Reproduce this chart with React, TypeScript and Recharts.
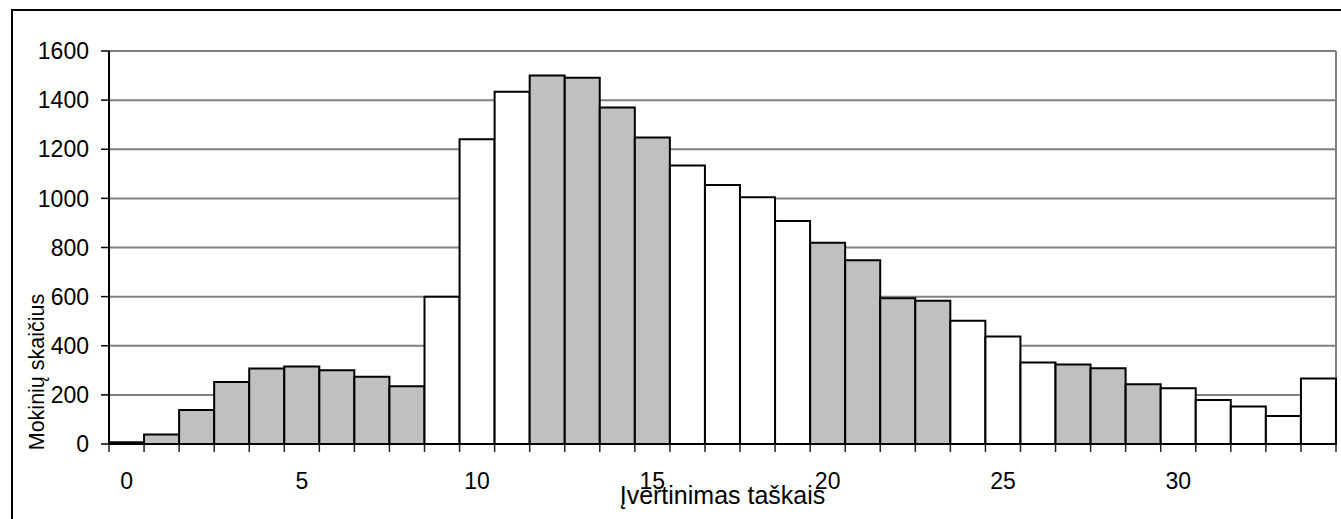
import { BarChart, Bar, XAxis, YAxis, CartesianGrid, Cell, Label } from "recharts"

const scores = [
  0, 1, 2, 3, 4, 5, 6, 7, 8, 9, 10, 11, 12, 13, 14, 15, 16, 17,
  18, 19, 20, 21, 22, 23, 24, 25, 26, 27, 28, 29, 30, 31, 32, 33, 34,
]

const counts = [
  7, 39, 138, 252, 307, 316, 300, 274, 235, 600, 1241, 1434, 1500, 1491, 1370, 1248, 1134, 1054,
  1005, 908, 819, 748, 593, 583, 502, 438, 332, 324, 308, 243, 227, 179, 153, 114, 267,
]

// grey bars vs white bars, same order as scores
const shaded = [
  true, true, true, true, true, true, true, true, true,
  false, false, false,
  true, true, true, true,
  false, false, false, false,
  true, true, true, true,
  false, false, false,
  true, true, true,
  false, false, false, false, false,
]

const yTicks = [0, 200, 400, 600, 800, 1000, 1200, 1400, 1600]

const FONT = "'Liberation Sans', Arial, sans-serif"

const data = scores.map((s, i) => ({ score: s, count: counts[i] }))

const XTick = (props: any) => {
  const { x, y, payload } = props
  const half = payload.offset ?? 17.5
  const isLast = payload.value === scores[scores.length - 1]
  return (
    <g>
      <line x1={x - half} x2={x - half} y1={y} y2={y + 8} stroke="#222" strokeWidth={1.5} />
      {isLast && <line x1={x + half} x2={x + half} y1={y} y2={y + 8} stroke="#222" strokeWidth={1.5} />}
      {payload.value % 5 === 0 && (
        <text x={x} y={y + 45} textAnchor="middle" fontSize={23} fontFamily={FONT} fill="#000">
          {payload.value}
        </text>
      )}
    </g>
  )
}

export default function App() {
  return (
    <div style={{ position: "absolute", left: 0, top: 0, width: 1341, height: 519, overflow: "hidden", background: "#fff" }}>
      <div
        style={{
          position: "absolute",
          left: 11,
          top: 9,
          width: 1360,
          height: 540,
          border: "2px solid #000",
        }}
      />
      <div style={{ position: "absolute", left: 0, top: 0 }}>
        <BarChart
          width={1341}
          height={519}
          data={data}
          margin={{ top: 51, right: 5, left: 0, bottom: 0 }}
          barCategoryGap={0}
        >
          <CartesianGrid
            stroke="#808080"
            strokeWidth={2}
            verticalCoordinatesGenerator={({ offset }: any) => [offset.left + offset.width]}
          />
          <XAxis
            dataKey="score"
            interval={0}
            height={75}
            tickSize={0}
            tickMargin={0}
            tickLine={false}
            axisLine={{ stroke: "#000", strokeWidth: 2 }}
            tick={<XTick />}
          >
            <Label
              value="Įvertinimas taškais"
              position="insideBottom"
              offset={15}
              style={{ fontSize: 25, fontFamily: FONT, fill: "#000" }}
            />
          </XAxis>
          <YAxis
            domain={[0, 1600]}
            ticks={yTicks}
            width={109}
            tickSize={8}
            tickMargin={12}
            tickLine={{ stroke: "#000", strokeWidth: 1.5 }}
            axisLine={{ stroke: "#000", strokeWidth: 2 }}
            tick={{ fontSize: 23, fontFamily: FONT, fill: "#000" }}
          >
            <Label
              content={() => (
                <text
                  x={37}
                  y={372}
                  transform="rotate(-90, 37, 372)"
                  textAnchor="middle"
                  dominantBaseline="central"
                  fontSize={21.5}
                  fontFamily={FONT}
                  fill="#000"
                >
                  Mokinių skaičius
                </text>
              )}
            />
          </YAxis>
          <Bar dataKey="count" stroke="#000" strokeWidth={2} isAnimationActive={false}>
            {data.map((d, i) => (
              <Cell key={`c-${d.score}`} fill={shaded[i] ? "#c0c0c0" : "#ffffff"} />
            ))}
          </Bar>
        </BarChart>
      </div>
    </div>
  )
}
